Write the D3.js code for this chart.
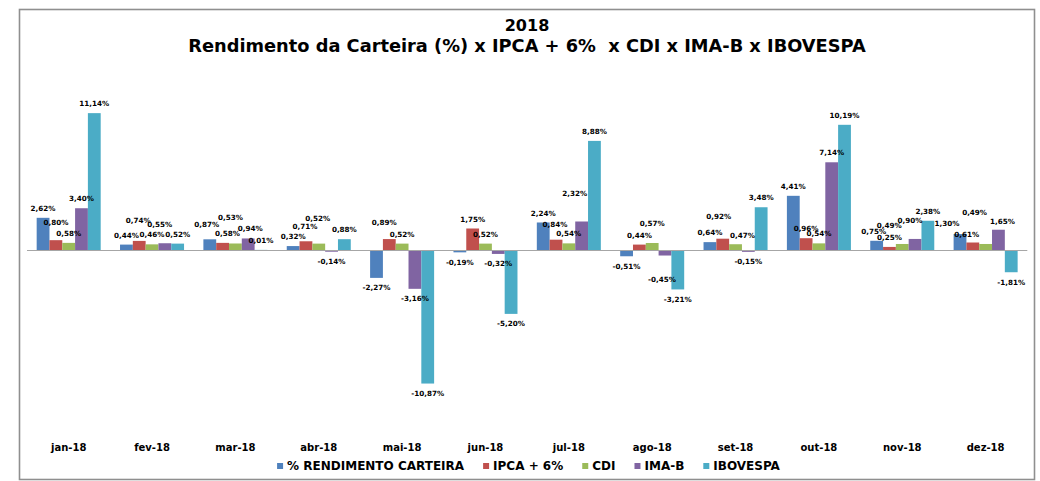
<!DOCTYPE html>
<html>
<head>
<meta charset="utf-8">
<script src="https://cdn.jsdelivr.net/npm/d3@7"></script>
<style>
  body { margin: 0; background: #fff; }
  svg text { font-family: "DejaVu Sans", Verdana, sans-serif; font-weight: bold; fill: #000; }
</style>
</head>
<body>
<script>

//Chart data (monthly returns, %)
var months = ["jan-18","fev-18","mar-18","abr-18","mai-18","jun-18","jul-18","ago-18","set-18","out-18","nov-18","dez-18"];
var seriesNames = ["% RENDIMENTO CARTEIRA","IPCA + 6%","CDI","IMA-B","IBOVESPA"];
var carteira = [2.62, 0.44, 0.87, 0.32, -2.27, -0.19, 2.24, -0.51, 0.64, 4.41, 0.75, 1.30];
var ipca6    = [0.80, 0.74, 0.58, 0.71, 0.89, 1.75, 0.84, 0.44, 0.92, 0.96, 0.25, 0.61];
var cdi      = [0.58, 0.46, 0.53, 0.52, 0.52, 0.52, 0.54, 0.57, 0.47, 0.54, 0.49, 0.49];
var imab     = [3.40, 0.55, 0.94, -0.14, -3.16, -0.32, 2.32, -0.45, -0.15, 7.14, 0.90, 1.65];
var ibovespa = [11.14, 0.52, 0.01, 0.88, -10.87, -5.20, 8.88, -3.21, 3.48, 10.19, 2.38, -1.81];

var seriesValues = [carteira, ipca6, cdi, imab, ibovespa];
var colors = ["#4F81BD","#C0504D","#9BBB59","#8064A2","#4BACC6"];

//Manual label shifts (the original chart had some labels dragged around) [dx, dy], key = series index|month
var labelNudge = {
  "1|jan-18": [0,-8],
  "1|fev-18": [-1,-11],
  "3|fev-18": [-5,-9],
  "0|mar-18": [-3,-5],
  "1|mar-18": [5,0],
  "2|mar-18": [-5,-17],
  "3|mar-18": [2,-1],
  "1|abr-18": [-1,-5],
  "2|abr-18": [-1,-16],
  "1|mai-18": [-5,-7],
  "1|jul-18": [-1,-6],
  "3|jul-18": [-7,-19],
  "2|ago-18": [0,-10],
  "3|ago-18": [-3,14],
  "1|set-18": [-4,-13],
  "2|set-18": [7,1],
  "0|nov-18": [-3,0],
  "2|nov-18": [-13,-9],
  "3|nov-18": [-5,-9],
  "0|dez-18": [-13,-1],
  "1|dez-18": [-6,1],
  "2|dez-18": [-11,-22],
  "3|dez-18": [4,1]
};

var width = 1040,
    height = 481;

var svg = d3.select("body").append("svg")
    .attr("width", width)
    .attr("height", height);

//frame
svg.append("rect")
    .attr("x", 19.5)
    .attr("y", 9.5)
    .attr("width", 1015)
    .attr("height", 470)
    .attr("fill", "#fff")
    .attr("stroke", "#8f8f8f")
    .attr("stroke-width", 1.6);

//Title
svg.append("text")
    .attr("x", 527)
    .attr("y", 31)
    .attr("text-anchor", "middle")
    .attr("font-size", 16)
    .text("2018");
svg.append("text")
    .attr("x", 527)
    .attr("y", 52)
    .attr("text-anchor", "middle")
    .attr("font-size", 17.8)
    .attr("xml:space", "preserve")
    .text("Rendimento da Carteira (%) x IPCA + 6%  x CDI x IMA-B x IBOVESPA");

//Scales
var x0 = d3.scaleBand()
    .domain(months)
    .range([27, 1027.3])
    .padding(0);

var x1 = d3.scaleBand()
    .domain(d3.range(seriesNames.length))
    .range([x0.bandwidth() * 0.116, x0.bandwidth() * 0.884]);

var y = d3.scaleLinear()
    .domain([-14, 14])
    .range([422, 78]);

var ptBR = d3.formatLocale({decimal: ",", thousands: ".", grouping: [3], currency: ["R$", ""], minus: "-"});
var fmt = ptBR.format(".2f");

//flatten into rows
var rows = [];
months.forEach(function(m, i) {
  seriesValues.forEach(function(vals, s) {
    rows.push({month: m, s: s, value: vals[i]});
  });
});

//bars
svg.append("g").selectAll("rect")
    .data(rows)
    .enter()
    .append("rect")
    .attr("x", function(d) { return x0(d.month) + x1(d.s); })
    .attr("y", function(d) { return y(Math.max(0, d.value)); })
    .attr("width", x1.bandwidth())
    .attr("height", function(d) { return Math.abs(y(d.value) - y(0)); })
    .attr("fill", function(d) { return colors[d.s]; });

//zero line
svg.append("line")
    .attr("x1", x0.range()[0])
    .attr("x2", x0.range()[1])
    .attr("y1", Math.round(y(0)) + 0.5)
    .attr("y2", Math.round(y(0)) + 0.5)
    .attr("stroke", "#a6a6a6")
    .attr("stroke-width", 1.2);

//data labels
svg.append("g").selectAll("text")
    .data(rows)
    .enter()
    .append("text")
    .attr("text-anchor", "middle")
    .attr("font-size", 7.2)
    .attr("x", function(d) {
      var n = labelNudge[d.s + "|" + d.month] || [0, 0];
      return x0(d.month) + x1(d.s) + x1.bandwidth() / 2 + n[0];
    })
    .attr("y", function(d) {
      var n = labelNudge[d.s + "|" + d.month] || [0, 0];
      if (d.value >= 0) return y(d.value) - 6.9 + n[1];
      return y(d.value) + 12.4 + n[1];
    })
    .text(function(d) { return fmt(d.value) + "%"; });

//category labels
svg.append("g").selectAll("text")
    .data(months)
    .enter()
    .append("text")
    .attr("x", function(d) { return x0(d) + x0.bandwidth() / 2; })
    .attr("y", 451)
    .attr("text-anchor", "middle")
    .attr("font-size", 10)
    .text(function(d) { return d; });

//legend
var legend = svg.append("g").attr("class", "legend");
var items = legend.selectAll("g")
    .data(seriesNames)
    .enter()
    .append("g");
items.append("rect")
    .attr("width", 6)
    .attr("height", 6)
    .attr("y", 463)
    .attr("fill", function(d, i) { return colors[i]; });
items.append("text")
    .attr("x", 10)
    .attr("y", 470)
    .attr("font-size", 12)
    .text(function(d) { return d; });

var gap = 19, lx = 0, pos = [];
items.each(function() {
  pos.push(lx);
  lx += 10 + this.querySelector("text").getComputedTextLength() + gap;
});
var total = lx - gap;
var startX = 528.5 - total / 2;
items.attr("transform", function(d, i) { return "translate(" + (startX + pos[i]) + ",0)"; });

</script>
</body>
</html>
